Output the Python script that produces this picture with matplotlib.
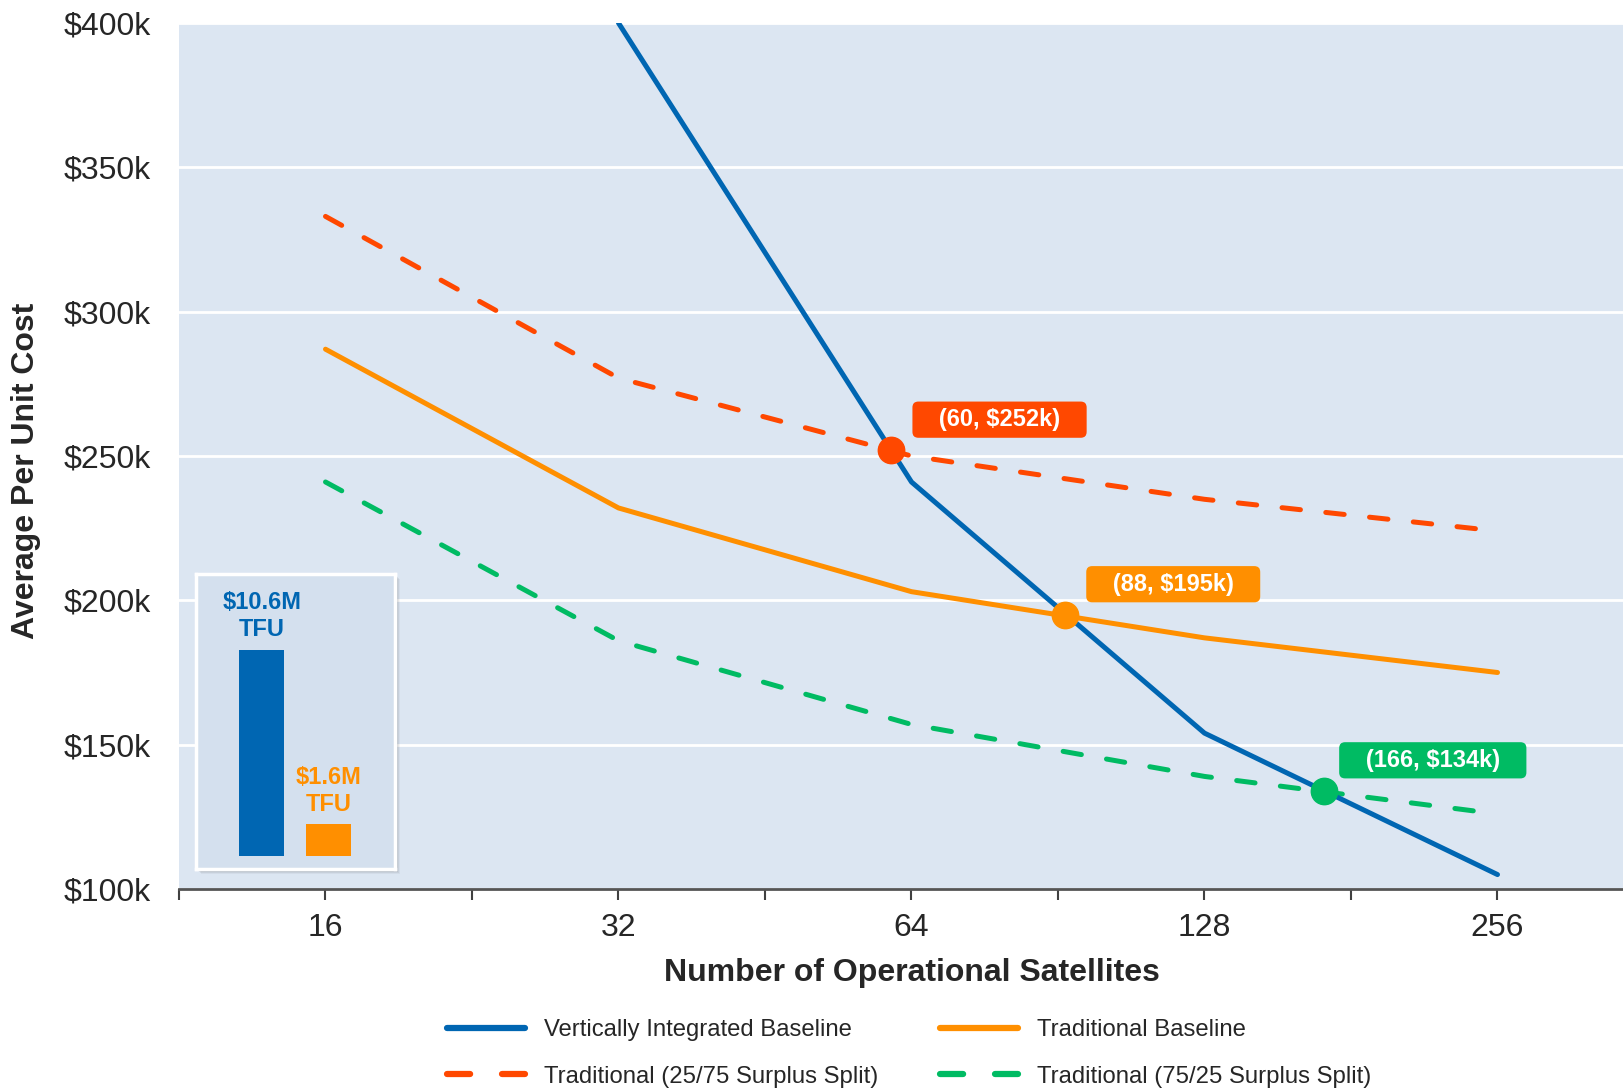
import matplotlib
matplotlib.use('Agg')
import matplotlib.pyplot as plt
from matplotlib.patches import FancyBboxPatch
from matplotlib.ticker import NullLocator
import numpy as np

plt.rcParams['font.family'] = ['Liberation Sans', 'DejaVu Sans']

# data (costs in $k)
sats = [16, 32, 64, 128, 256]
vi_sats = [32, 64, 128, 256]
vi_cost = [400, 241, 154, 105]
trad_cost = [287, 232, 203, 187, 175]
trad_2575 = [333, 277, 250, 235, 224]
trad_7525 = [241, 186, 157, 139, 126]

cross_x = [61, 92, 170]
cross_y = [252, 195, 134]
cross_labels = ['(60, $252k)', '(88, $195k)', '(166, $134k)']

tfu_values = [10.6, 1.6]
tfu_labels = ['$10.6M\nTFU', '$1.6M\nTFU']

BLUE = '#0066b2'
ORANGE = '#ff8f00'
RED = '#ff4800'
GREEN = '#00bb63'
cross_colors = [RED, ORANGE, GREEN]
TEXT = '#262626'

W, H = 1624, 1091
fig = plt.figure(figsize=(W / 100, H / 100), dpi=100)
ax = fig.add_axes([179 / W, 1 - 889 / H, (1644 - 179) / W, (889 - 23) / H])
ax.set_facecolor('#dce6f2')

lw = 3.6
dash = (0, (3.7, 5.1))
l_vi, = ax.plot(vi_sats, vi_cost, color=BLUE, lw=lw, solid_capstyle='round',
                label='Vertically Integrated Baseline', zorder=4)
l_tr, = ax.plot(sats, trad_cost, color=ORANGE, lw=lw, solid_capstyle='round',
                label='Traditional Baseline', zorder=3)
l_25, = ax.plot(sats, trad_2575, color=RED, lw=lw, linestyle=dash,
                dash_capstyle='round', label='Traditional (25/75 Surplus Split)', zorder=3)
l_75, = ax.plot(sats, trad_7525, color=GREEN, lw=lw, linestyle=dash,
                dash_capstyle='round', label='Traditional (75/25 Surplus Split)', zorder=3)

for x, y, lab, c in zip(cross_x, cross_y, cross_labels, cross_colors):
    ax.plot(x, y, 'o', color=c, markersize=19, zorder=6)
    ax.annotate('   ' + lab + '   ', (x, y), xytext=(78, 22), textcoords='offset points',
                ha='center', va='center', color='white', fontsize=17, fontweight='bold',
                bbox=dict(boxstyle='round,pad=0.28,rounding_size=0.25', fc=c, ec='none'),
                zorder=7)

ax.set_xscale('log', base=2)
ax.set_xlim(2 ** 3.5, 2 ** 8.5)
ax.set_ylim(100, 400)
ticks = [2 ** k for k in np.arange(3.5, 8.5, 0.5)]
ax.set_xticks(ticks)
ax.set_xticklabels([str(int(t)) if float(t).is_integer() else '' for t in ticks])
ax.xaxis.set_minor_locator(NullLocator())
yt = [100, 150, 200, 250, 300, 350, 400]
ax.set_yticks(yt)
ax.set_yticklabels([f'${v}k' for v in yt])

ax.grid(axis='y', color='white', lw=2)
ax.set_axisbelow(True)
for s in ['top', 'right', 'left']:
    ax.spines[s].set_visible(False)
ax.spines['bottom'].set_color('#555555')
ax.spines['bottom'].set_linewidth(2)
ax.spines['bottom'].set_zorder(5)
ax.tick_params(axis='x', direction='out', length=8, width=1.5, color='#404040',
               pad=9.5, labelsize=23, labelcolor=TEXT)
ax.tick_params(axis='y', length=0, pad=20, labelsize=23, labelcolor=TEXT)

ax.set_xlabel('Number of Operational Satellites', fontsize=23, fontweight='bold', color=TEXT)
ax.set_ylabel('Average Per Unit Cost', fontsize=23, fontweight='bold', color=TEXT)
ax.xaxis.set_label_coords(0.5, -0.0795)
ax.yaxis.set_label_coords(-0.094, 0.483)

# inset with first-unit costs
ix0, iy0, iw, ih = 196, 869, 199, 295
for i, a in enumerate([0.10, 0.08, 0.06, 0.04]):
    off = 2 + i
    sh = FancyBboxPatch(((ix0 + off) / W, 1 - (iy0 + off) / H), iw / W, ih / H,
                        boxstyle='square,pad=0', transform=fig.transFigure,
                        fc='black', ec='none', alpha=a, zorder=2)
    fig.add_artist(sh)
axi = fig.add_axes([ix0 / W, 1 - iy0 / H, iw / W, ih / H], zorder=3)
axi.set_facecolor('#d4e0ee')
for s in axi.spines.values():
    s.set_color('white')
    s.set_linewidth(2.5)
axi.set_xticks([])
axi.set_yticks([])
bars = axi.bar([0, 1], tfu_values, width=0.68, color=[BLUE, ORANGE])
axi.set_xlim(-0.985, 2.0)
axi.set_ylim(-0.69, 14.49)
for b, lab, c in zip(bars, tfu_labels, [BLUE, ORANGE]):
    axi.annotate(lab, (b.get_x() + b.get_width() / 2, b.get_height()),
                 xytext=(0, 6), textcoords='offset points', ha='center', va='bottom',
                 color=c, fontsize=17, fontweight='bold', linespacing=1.25)

leg = fig.legend([l_vi, l_25, l_tr, l_75],
                 [l.get_label() for l in [l_vi, l_25, l_tr, l_75]],
                 loc='upper left', bbox_to_anchor=(447 / W, 1 - 1019 / H), ncol=2,
                 frameon=False, fontsize=17.2, handlelength=3.26, handletextpad=0.8,
                 columnspacing=2.6, labelspacing=1.03, borderpad=0, borderaxespad=0)
for t in leg.get_texts():
    t.set_color(TEXT)
for h in leg.legend_handles:
    h.set_linewidth(4.5)

fig.savefig('out.png', dpi=100)
